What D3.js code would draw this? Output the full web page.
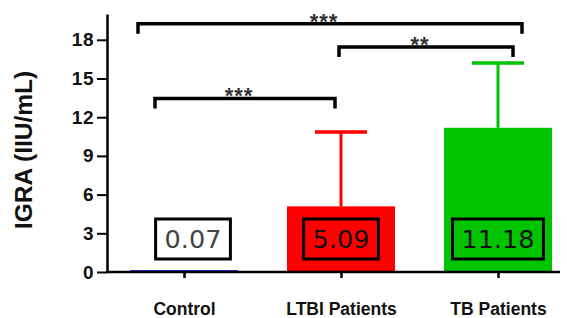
<!DOCTYPE html>
<html><head><meta charset="utf-8">
<script src="https://cdn.jsdelivr.net/npm/d3@7/dist/d3.min.js"></script>
<style>body{margin:0;background:#fff}svg{display:block}</style>
</head><body>
<svg id="c" width="567" height="318"></svg>
<script>
const categories = ["Control", "LTBI Patients", "TB Patients"];
const means = [0.07, 5.09, 11.18];
const errorTops = [0.07, 10.86, 16.2];
const valueLabels = ["0.07", "5.09", "11.18"];
const yTicks = [0, 3, 6, 9, 12, 15, 18];
const comparisons = [
  {a: 0, b: 2, level: 19.25, label: "***"},
  {a: 1, b: 2, level: 17.45, label: "**"},
  {a: 0, b: 1, level: 13.45, label: "***"}
];
const barColors = ["#2a2ae0", "#ff0000", "#00c400"];
const labelColors = ["#444", "#111", "#111"];

const svg = d3.select("#c");
const y = d3.scaleLinear().domain([0, 20]).range([272, 14]);
const x = d3.scalePoint().domain(categories).range([184, 498]);
const barW = 108;

// bars
svg.selectAll("rect.bar").data(categories).join("rect")
  .attr("x", d => x(d) - barW/2)
  .attr("width", barW)
  .attr("y", (d,i) => Math.min(y(means[i]), 270))
  .attr("height", (d,i) => Math.max(y(0) - y(means[i]), 2))
  .attr("fill", (d,i) => barColors[i]);

// error bars
categories.forEach((c,i) => {
  if (errorTops[i] <= means[i]) return;
  svg.append("line").attr("x1", x(c)).attr("x2", x(c))
    .attr("y1", y(means[i])).attr("y2", y(errorTops[i]))
    .attr("stroke", barColors[i]).attr("stroke-width", 3);
  svg.append("line").attr("x1", x(c)-26).attr("x2", x(c)+26)
    .attr("y1", y(errorTops[i])).attr("y2", y(errorTops[i]))
    .attr("stroke", barColors[i]).attr("stroke-width", 3.5);
});

// y axis
const yAxis = d3.axisLeft(y).tickValues(yTicks).tickSize(10).tickSizeOuter(0).tickPadding(3);
const ga = svg.append("g").attr("transform", "translate(107,0)").call(yAxis);
ga.select(".domain").attr("stroke-width", 2.5);
ga.selectAll(".tick line").attr("stroke-width", 2);
ga.selectAll(".tick text").attr("font-family", "Liberation Sans, Arial, sans-serif")
  .attr("font-weight", "bold").attr("font-size", 19).attr("letter-spacing", 0.5)
  .attr("fill", "#111");

// x axis
svg.append("line").attr("x1", 106).attr("x2", 560).attr("y1", y(0)).attr("y2", y(0))
  .attr("stroke", "#000").attr("stroke-width", 2.5);
const xAxis = d3.axisBottom(x).tickSize(6).tickSizeOuter(0).tickPadding(29);
const gx = svg.append("g").attr("transform", `translate(0,${y(0)})`).call(xAxis);
gx.select(".domain").remove();
gx.selectAll(".tick line").attr("stroke-width", 2.5);
gx.selectAll(".tick text").attr("font-family", "Liberation Sans, Arial, sans-serif")
  .attr("font-weight", "bold").attr("font-size", 17.5).attr("fill", "#111")
  .attr("dy", "0.45em");

// y label
svg.append("text").attr("transform", "translate(32,150) rotate(-90)")
  .attr("text-anchor", "middle").attr("font-family", "Liberation Sans, Arial, sans-serif")
  .attr("font-weight", "bold").attr("font-size", 24.5).attr("fill", "#111")
  .text("IGRA (IIU/mL)");

// value label boxes
const labelDx = [9, 0, 0];
categories.forEach((c,i) => {
  const cx = x(c) + labelDx[i], cy = 239;
  const g = svg.append("g");
  const r = g.append("rect");
  const t = g.append("text").attr("x", cx).attr("y", cy)
    .attr("text-anchor", "middle").attr("dominant-baseline", "central")
    .attr("font-family", "DejaVu Sans, sans-serif").attr("font-size", 25.5)
    .attr("fill", labelColors[i]).text(valueLabels[i]);
  const w = t.node().getComputedTextLength() + 18;
  r.attr("x", cx - w/2).attr("y", cy - 20).attr("width", w).attr("height", 40)
    .attr("fill", i === 0 ? "#fff" : "none").attr("stroke", "#000").attr("stroke-width", 3);
});

// significance brackets
const bracketOffsets = [[-46, 24], [-2, 15], [-29, -6]];
comparisons.forEach((cmp, k) => {
  const x1 = x(categories[cmp.a]) + bracketOffsets[k][0];
  const x2 = x(categories[cmp.b]) + bracketOffsets[k][1];
  const yy = y(cmp.level);
  svg.append("path").attr("d", `M${x1},${yy+10}V${yy}H${x2}V${yy+10}`)
    .attr("fill", "none").attr("stroke", "#000").attr("stroke-width", 3.5)
    .attr("stroke-linejoin", "miter");
  svg.append("text").attr("x", (x1+x2)/2 - 6).attr("y", yy + 5)
    .attr("text-anchor", "middle").attr("font-family", "Liberation Sans, Arial, sans-serif")
    .attr("font-weight", "bold").attr("font-size", 22).attr("letter-spacing", 1)
    .attr("fill", "#333")
    .text(cmp.label);
});
</script>
</body></html>
